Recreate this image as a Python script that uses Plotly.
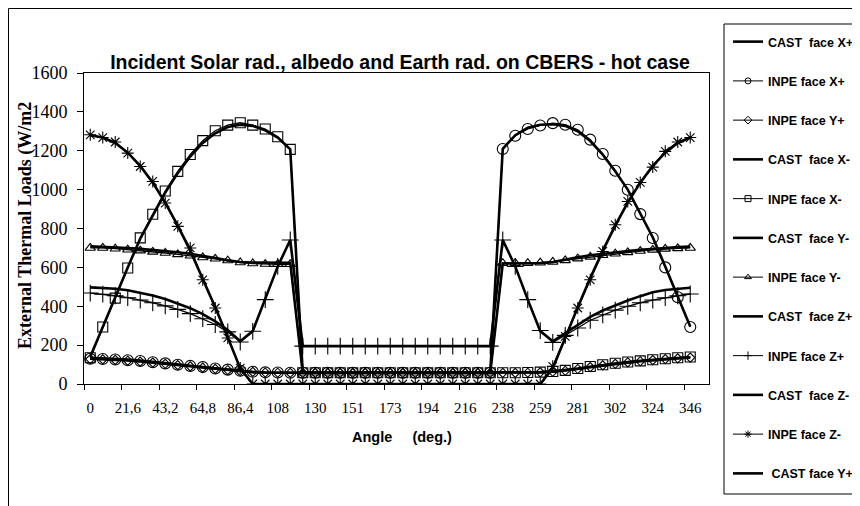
import plotly.graph_objects as go

# ---------------- data ----------------
angles = ["0", "7,2", "14,4", "21,6", "28,8", "36", "43,2", "50,4", "57,6", "64,8",
          "72", "79,2", "86,4", "93,6", "101", "108", "115", "122", "130", "137",
          "144", "151", "158", "166", "173", "180", "187", "194", "202", "209",
          "216", "223", "230", "238", "245", "252", "259", "266", "274", "281",
          "288", "295", "302", "310", "317", "324", "331", "338", "346", "353"]

cast_xp = [135, 133, 130, 126, 121, 115, 108, 101, 94, 87, 80, 73, 67, 62, 59, 58, 58,
           58, 58, 58, 58, 58, 58, 58, 58, 58, 58, 58, 58, 58, 58, 58, 58,
           1210, 1280, 1318, 1334, 1336, 1328, 1300, 1250, 1180, 1095, 1000, 880, 755, 605, 450, 296]
inpe_xp = [130, 129, 126, 122, 118, 112, 106, 99, 93, 87, 80, 74, 68, 63, 60, 59, 58,
           58, 58, 58, 58, 58, 58, 58, 58, 58, 58, 58, 58, 58, 58, 58, 58,
           1209, 1277, 1312, 1330, 1342, 1334, 1308, 1257, 1183, 1097, 999, 874, 751, 600, 446, 293]
inpe_yp = [128, 127, 124, 120, 115, 110, 104, 97, 91, 84, 78, 72, 66, 62, 59, 58, 57,
           57, 57, 57, 57, 57, 57, 57, 57, 57, 57, 57, 57, 57, 57, 57, 57,
           57, 57, 58, 60, 63, 68, 77, 87, 96, 104, 111, 117, 123, 128, 132, 136]
cast_xm = [140, 295, 448, 600, 748, 870, 985, 1085, 1170, 1240, 1290, 1322, 1334, 1328, 1305, 1268, 1207,
           58, 58, 58, 58, 58, 58, 58, 58, 58, 58, 58, 58, 58, 58, 58, 58,
           58, 58, 59, 61, 65, 71, 80, 89, 98, 106, 113, 119, 125, 130, 134, 138]
inpe_xm = [135, 293, 442, 597, 752, 873, 993, 1094, 1181, 1252, 1303, 1332, 1344, 1332, 1312, 1272, 1207,
           58, 58, 58, 58, 58, 58, 58, 58, 58, 58, 58, 58, 58, 58, 58, 58,
           58, 58, 59, 61, 64, 70, 80, 90, 99, 107, 113, 119, 125, 130, 135, 139]
cast_ym = [708, 706, 703, 700, 695, 690, 685, 678, 670, 660, 648, 636, 628, 625, 624, 624, 624,
           58, 58, 58, 58, 58, 58, 58, 58, 58, 58, 58, 58, 58, 58, 58, 58,
           620, 620, 621, 622, 627, 640, 652, 662, 670, 677, 684, 690, 696, 700, 704, 707]
inpe_ym = [700, 700, 696, 691, 686, 680, 674, 667, 660, 651, 644, 635, 625, 620, 617, 616, 616,
           58, 58, 58, 58, 58, 58, 58, 58, 58, 58, 58, 58, 58, 58, 58, 58,
           622, 622, 622, 624, 628, 636, 645, 654, 662, 670, 677, 684, 690, 695, 698, 700]
cast_zp = [497, 495, 490, 482, 470, 455, 437, 415, 390, 360, 322, 278, 220, 272, 434, 605, 741,
           195, 195, 195, 195, 195, 195, 195, 195, 195, 195, 195, 195, 195, 195, 195, 195,
           741, 605, 434, 272, 220, 262, 305, 345, 378, 405, 430, 452, 472, 484, 491, 495]
inpe_zp = [468, 462, 454, 444, 432, 418, 402, 384, 362, 336, 306, 268, 216, 271, 434, 605, 741,
           195, 195, 195, 195, 195, 195, 195, 195, 195, 195, 195, 195, 195, 195, 195, 195,
           741, 605, 434, 275, 214, 250, 288, 328, 356, 380, 400, 418, 432, 444, 454, 463]
cast_zm = [1280, 1268, 1240, 1190, 1122, 1036, 933, 815, 686, 545, 395, 240, 80, 0, 0, 0, 0,
           0, 0, 0, 0, 0, 0, 0, 0, 0, 0, 0, 0, 0, 0, 0, 0,
           0, 0, 0, 0, 80, 240, 395, 545, 686, 815, 933, 1036, 1122, 1190, 1240, 1268]
inpe_zm = [1282, 1268, 1245, 1188, 1119, 1042, 931, 811, 700, 536, 391, 237, 82, 0, 0, 0, 0,
           0, 0, 0, 0, 0, 0, 0, 0, 0, 0, 0, 0, 0, 0, 0, 0,
           0, 0, 0, 0, 91, 245, 391, 536, 682, 819, 939, 1037, 1116, 1197, 1245, 1268]
cast_yp = [130, 128, 125, 121, 116, 110, 104, 97, 90, 84, 77, 71, 65, 61, 59, 58, 58,
           58, 58, 58, 58, 58, 58, 58, 58, 58, 58, 58, 58, 58, 58, 58, 58,
           58, 58, 58, 60, 63, 69, 77, 86, 95, 103, 110, 117, 123, 128, 132, 136]

legend_names = ["CAST\u00a0\u00a0face X+", "INPE face X+", "INPE face Y+", "CAST\u00a0\u00a0face X-",
                "INPE face X-", "CAST\u00a0\u00a0face Y-", "INPE face Y-", "CAST\u00a0\u00a0face Z+",
                "INPE face Z+", "CAST\u00a0\u00a0face Z-", "INPE face Z-", "\u00a0CAST face Y+"]
series = [cast_xp, inpe_xp, inpe_yp, cast_xm, inpe_xm, cast_ym, inpe_ym,
          cast_zp, inpe_zp, cast_zm, inpe_zm, cast_yp]
symbols = [None, "circle-open", "diamond-open", None, "square-open", None, "triangle-up-open",
           None, "cross-thin-open", None, "asterisk-open", None]
msizes = [0, 11, 7, 0, 10, 0, 9, 0, 12, 0, 10, 0]

# ---------------- layout geometry ----------------
# page body has an 8 px margin, so figure coords = screen coords - 8
OFF = 8
W, H = 852, 498
L, R, T, B = 84 - OFF, 709 - OFF, 73 - OFF, 384 - OFF
pw, ph = R - L, B - T


def px(x):  # screen px -> paper
    return (x - OFF - L) / pw


def py(y):
    return (B - (y - OFF)) / ph


fig = go.Figure()

for k, (name, ys, sym, ms) in enumerate(zip(legend_names, series, symbols, msizes)):
    if sym is None:
        fig.add_trace(go.Scatter(x=angles, y=ys, mode="lines", name=name,
                                 line=dict(color="black", width=2.6),
                                 showlegend=False, hoverinfo="skip"))
        fig.add_trace(go.Scatter(x=[angles[0]], y=[None], mode="lines", name=name,
                                 line=dict(color="black", width=2.6),
                                 legendgroup=f"g{k}", showlegend=True))
    else:
        fig.add_trace(go.Scatter(x=angles, y=ys, mode="lines+markers", name=name,
                                 line=dict(color="black", width=1.3),
                                 marker=dict(symbol=sym, size=ms, color="black",
                                             line=dict(color="black", width=1.1)),
                                 showlegend=False, hoverinfo="skip"))
        fig.add_trace(go.Scatter(x=[angles[0]], y=[None], mode="lines+markers", name=name,
                                 line=dict(color="black", width=1),
                                 marker=dict(symbol=sym, size=6, color="black",
                                             line=dict(color="black", width=1)),
                                 legendgroup=f"g{k}", showlegend=True))

fig.update_layout(
    width=W, height=H,
    margin=dict(l=L, r=W - R, t=T, b=H - B, autoexpand=False),
    paper_bgcolor="white", plot_bgcolor="white",
    title=dict(text="Incident Solar rad., albedo and Earth rad. on CBERS - hot case",
               x=(400 - OFF) / W, xref="container", xanchor="center",
               y=1 - (62 - OFF) / H, yref="container", yanchor="middle",
               font=dict(family="Arial, Liberation Sans", size=19.5, color="black", weight="bold")),
    xaxis=dict(type="category", range=[-0.5, 49.5], tickmode="linear", tick0=0, dtick=3,
               tickson="boundaries", ticks="outside", ticklen=5, tickcolor="black",
               ticklabelstandoff=10,
               showline=True, linecolor="black", linewidth=1, mirror=True,
               showgrid=False, zeroline=False,
               tickfont=dict(family="Times New Roman, Liberation Serif", size=15, color="black"),
               tickangle=0),
    yaxis=dict(range=[0, 1600], tickmode="linear", tick0=0, dtick=200,
               ticks="outside", ticklen=6, tickcolor="black", ticklabelstandoff=6,
               showline=True, linecolor="black", linewidth=1, mirror=True,
               showgrid=False, zeroline=False,
               tickfont=dict(family="Times New Roman, Liberation Serif", size=18, color="black")),
    legend=dict(xref="container", yref="container", x=(728 - OFF) / W, y=1 - (27 - OFF) / H,
                xanchor="left", yanchor="top", traceorder="grouped",
                tracegroupgap=20, borderwidth=0, bgcolor="rgba(0,0,0,0)",
                maxheight=600,
                font=dict(family="Arial, Liberation Sans", size=12.5, color="black", weight="bold")),
    showlegend=True,
)

fig.add_annotation(text="External Thermal Loads (W/m2", textangle=-90,
                   x=px(25), y=py(226), xref="paper", yref="paper",
                   xanchor="center", yanchor="middle", showarrow=False,
                   font=dict(family="Times New Roman, Liberation Serif", size=18,
                             color="black", weight="bold"))
fig.add_annotation(text="Angle\u00a0\u00a0\u00a0\u00a0\u00a0(deg.)",
                   x=px(402), y=py(437), xref="paper", yref="paper",
                   xanchor="center", yanchor="middle", showarrow=False,
                   font=dict(family="Arial, Liberation Sans", size=14.5,
                             color="black", weight="bold"))

# outer chart frame and legend box
fig.add_shape(type="rect", xref="paper", yref="paper",
              x0=px(OFF + 0.5), x1=px(950), y0=py(OFF + 0.5), y1=py(600),
              line=dict(color="black", width=1), fillcolor="rgba(0,0,0,0)", layer="below")
fig.add_shape(type="rect", xref="paper", yref="paper",
              x0=px(724), x1=px(950), y0=py(24), y1=py(494),
              line=dict(color="black", width=1), fillcolor="rgba(0,0,0,0)", layer="below")

fig.write_html("out.html")
